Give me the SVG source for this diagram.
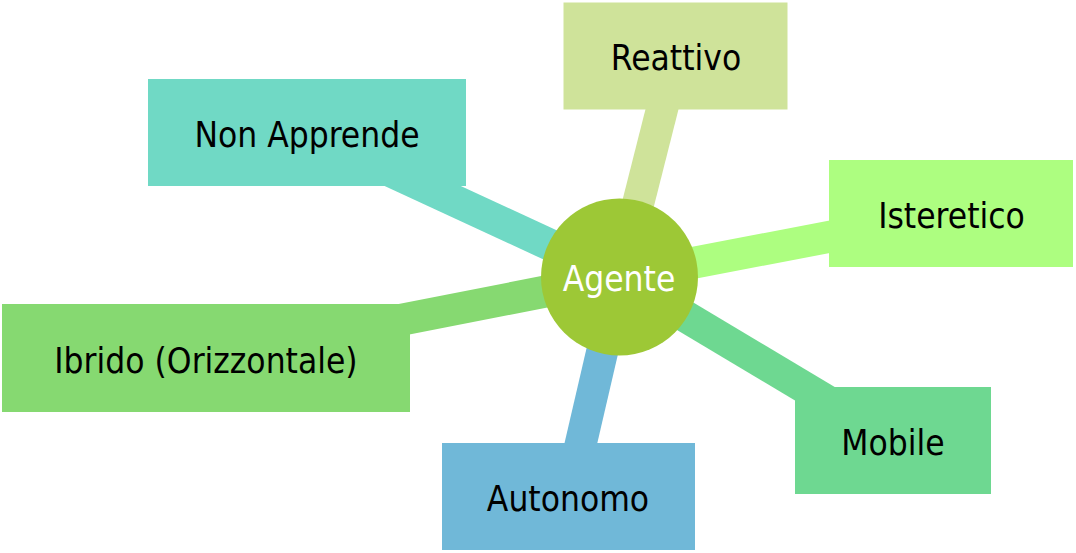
<svg xmlns="http://www.w3.org/2000/svg" width="1076" height="553" viewBox="0 0 1076 553">
<style>
.lbl{font-family:"DejaVu Sans","Liberation Sans",sans-serif;font-stretch:condensed;font-size:35px;fill:#000;text-anchor:middle}
.ctr{fill:#fff}
.e{stroke-width:32;fill:none}
</style>
<rect width="1076" height="553" fill="#fff"/>
<g id="connectors">
<line class="e" x1="619.5" y1="277" x2="307" y2="132.5" stroke="#70d9c5"/>
<line class="e" x1="619.5" y1="277" x2="206" y2="358" stroke="#86d971"/>
<line class="e" x1="619.5" y1="277" x2="675.5" y2="56" stroke="#cfe39a"/>
<line class="e" x1="619.5" y1="277" x2="951" y2="213.5" stroke="#adfe80"/>
<line class="e" x1="619.5" y1="277" x2="893" y2="440.5" stroke="#6ed891"/>
<line class="e" x1="619.5" y1="277" x2="568.5" y2="496.5" stroke="#70b8d8"/>
</g>
<g id="n-nonapprende">
<rect x="148" y="79" width="318" height="107" fill="#70d9c5"/>
<text class="lbl" x="307" y="146.5">Non Apprende</text>
</g>
<g id="n-ibrido">
<rect x="2" y="304" width="408" height="108" fill="#86d971"/>
<text class="lbl" x="206" y="372.5">Ibrido (Orizzontale)</text>
</g>
<g id="n-reattivo">
<rect x="563.5" y="2.5" width="224" height="107" fill="#cfe39a"/>
<text class="lbl" x="676" y="70">Reattivo</text>
</g>
<g id="n-isteretico">
<rect x="829" y="160" width="244" height="107" fill="#adfe80"/>
<text class="lbl" x="951.5" y="227.5">Isteretico</text>
</g>
<g id="n-mobile">
<rect x="795" y="387" width="196" height="107" fill="#6ed891"/>
<text class="lbl" x="893" y="455">Mobile</text>
</g>
<g id="n-autonomo">
<rect x="442" y="443" width="253" height="107" fill="#70b8d8"/>
<text class="lbl" x="568" y="510.5">Autonomo</text>
</g>
<g id="n-agente">
<circle cx="619.5" cy="277" r="78.5" fill="#9dc836"/>
<text class="lbl ctr" x="619" y="291">Agente</text>
</g>
</svg>
